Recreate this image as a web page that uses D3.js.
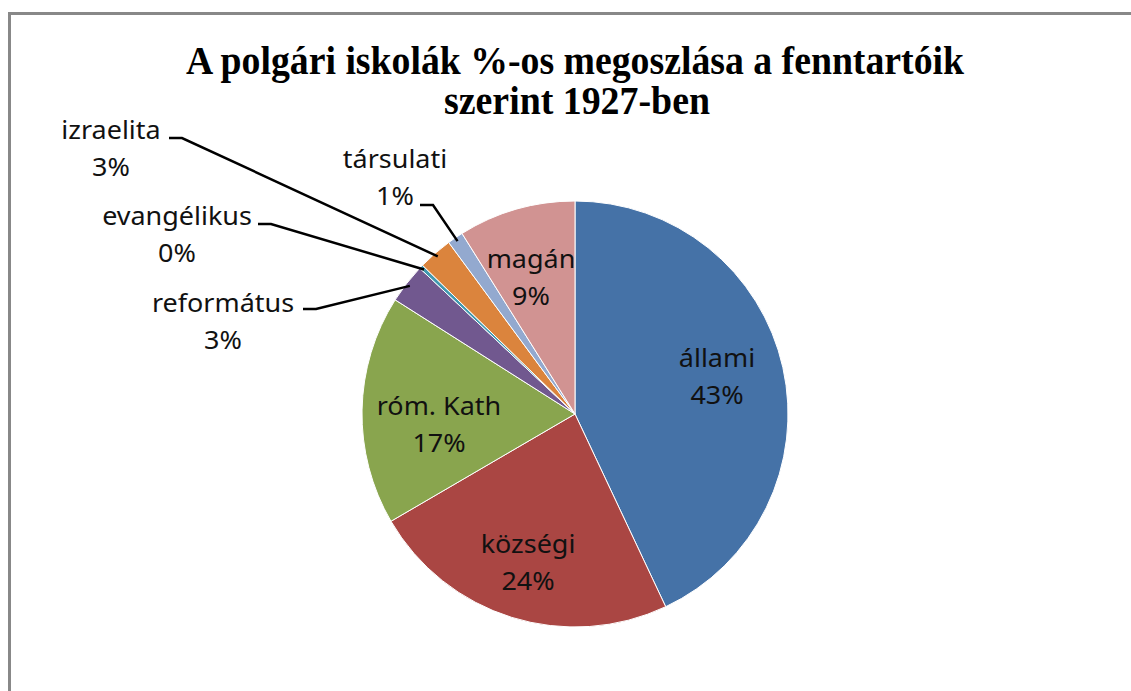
<!DOCTYPE html>
<html>
<head>
<meta charset="utf-8">
<script src="https://cdn.jsdelivr.net/npm/d3@7/dist/d3.min.js"></script>
<style>
  body { margin: 0; background: #fff; }
  svg { display: block; }
</style>
</head>
<body>
<div id="chart-area"></div>
<script>
// Data
var categories = ["állami", "községi", "róm. Kath", "református", "evangélikus", "izraelita", "társulati", "magán"];
var values = [43.0, 23.6, 17.4, 3.0, 0.3, 2.6, 1.2, 8.9];
var pctLabels = ["43%", "24%", "17%", "3%", "0%", "3%", "1%", "9%"];
var colors = ["#4572A7", "#AA4643", "#89A54E", "#71588F", "#4198AF", "#DB843D", "#93A9CF", "#D19392"];

var width = 1131, height = 691;
var cx = 575, cy = 414, radius = 213;

// Label placement (center x, first baseline y); outside labels get a leader line
var labelPos = [
    { x: 717, y: 367 },
    { x: 528, y: 553 },
    { x: 439, y: 415 },
    { x: 223, y: 312, lx: 303, ly: 309 },
    { x: 177, y: 225, lx: 258, ly: 224 },
    { x: 111, y: 139, lx: 169, ly: 138 },
    { x: 395, y: 168, lx: 420, ly: 205 },
    { x: 531, y: 268 }
];

var svg = d3.select("#chart-area").append("svg")
    .attr("width", width)
    .attr("height", height);

// chart frame (only top/left visible)
svg.append("rect")
    .attr("x", 9.5)
    .attr("y", 13.5)
    .attr("width", width + 20)
    .attr("height", height + 20)
    .attr("fill", "#fff")
    .attr("stroke", "#888")
    .attr("stroke-width", 3);

// Title
var title = svg.append("g")
    .attr("font-family", "'Liberation Serif', 'Times New Roman', serif")
    .attr("font-weight", "bold")
    .attr("font-size", "39px")
    .attr("text-anchor", "middle")
    .attr("fill", "#000");
title.append("text")
    .attr("x", 575).attr("y", 74)
    .attr("textLength", 778)
    .attr("lengthAdjust", "spacingAndGlyphs")
    .text("A polgári iskolák %-os megoszlása a fenntartóik");
title.append("text")
    .attr("x", 577).attr("y", 114)
    .attr("textLength", 266)
    .attr("lengthAdjust", "spacingAndGlyphs")
    .text("szerint 1927-ben");

var pie = d3.pie().sort(null).value(function(d) { return d; });
var arc = d3.arc().innerRadius(0).outerRadius(radius);
var arcs = pie(values);

var g = svg.append("g")
    .attr("transform", "translate(" + cx + "," + cy + ")");

g.selectAll(".slice")
    .data(arcs)
    .enter().append("path")
    .attr("class", "slice")
    .attr("d", arc)
    .attr("fill", function(d, i) { return colors[i]; })
    .attr("stroke", "#fff")
    .attr("stroke-width", 1);

// Leader lines for small slices
var edge = d3.arc().innerRadius(radius - 4).outerRadius(radius - 4);
arcs.forEach(function(d, i) {
    var p = labelPos[i];
    if (!p.lx) return;
    var c = edge.centroid(d);
    var ex = cx + c[0], ey = cy + c[1];
    svg.append("polyline")
        .attr("points", [[p.lx, p.ly], [p.lx + 13, p.ly], [ex, ey]].map(function(q) { return q.join(","); }).join(" "))
        .attr("fill", "none")
        .attr("stroke", "#000")
        .attr("stroke-width", 2.5);
});

// Data labels (stretched a bit wider, like the original Calibri text)
var labels = svg.append("g")
    .attr("font-family", "'Noto Sans', sans-serif")
    .attr("font-size", "24.5px")
    .attr("text-anchor", "middle")
    .attr("fill", "#111");

categories.forEach(function(c, i) {
    var p = labelPos[i];
    var lg = labels.append("g")
        .attr("transform", "translate(" + p.x + ",0) scale(1.1,1)");
    lg.append("text").attr("x", 0).attr("y", p.y).text(c);
    lg.append("text").attr("x", 0).attr("y", p.y + 37).text(pctLabels[i]);
});
</script>
</body>
</html>
